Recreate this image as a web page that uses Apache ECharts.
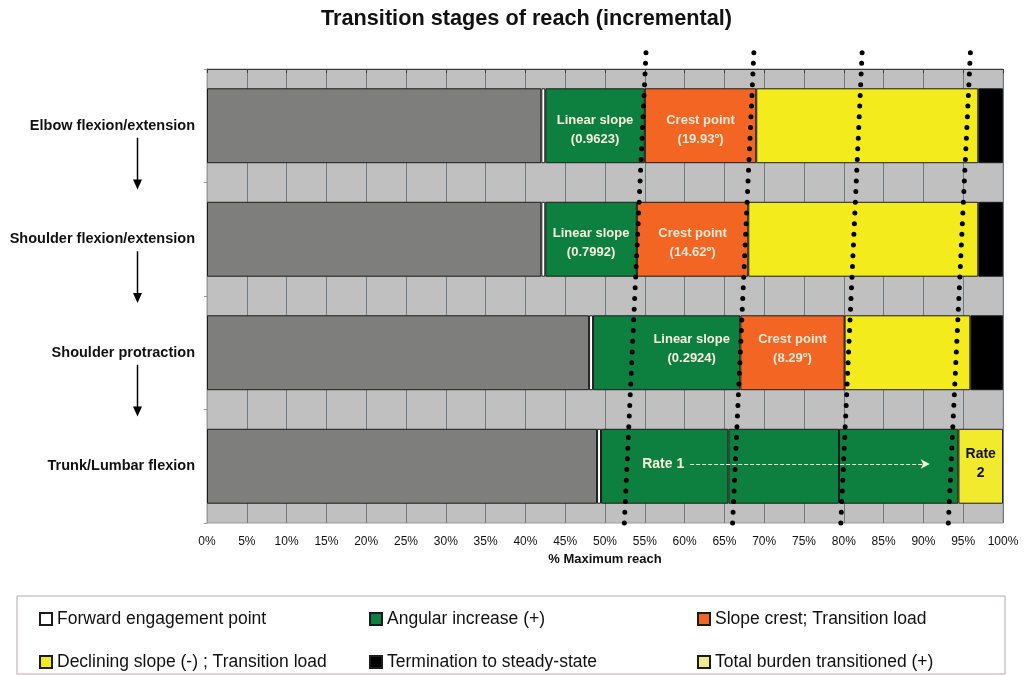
<!DOCTYPE html>
<html>
<head>
<meta charset="utf-8">
<script src="https://cdn.jsdelivr.net/npm/echarts@6/dist/echarts.min.js"></script>
<style>
html, body { margin: 0; padding: 0; background: #fff; }
#chart-panel { width: 1026px; height: 675px; }
</style>
</head>
<body>
<div id="chart-panel"></div>
<script>
// stages, top to bottom
var categories = ['Elbow flexion/extension', 'Shoulder flexion/extension', 'Shoulder protraction', 'Trunk/Lumbar flexion'];

// % of maximum reach per segment ('-' = no segment)
var baseGray    = [42.0, 42.0, 48.0, 49.0];
var engagement  = [0.5, 0.5, 0.5, 0.5];
var angular     = [12.5, 11.5, 18.5, 16.0];
var rate1Mid    = ['-', '-', '-', 13.9];
var rate1End    = ['-', '-', '-', 15.0];
var crest       = [14.0, 14.0, 13.1, '-'];
var declining   = [27.9, 28.9, 15.8, '-'];
var termination = [3.1, 3.1, 4.1, '-'];
var totalBurden = ['-', '-', '-', 5.6];

var angularLabels = ['Linear slope\n(0.9623)', 'Linear slope\n(0.7992)', 'Linear slope\n(0.2924)', ''];
var crestLabels = ['Crest point\n(19.93º)', 'Crest point\n(14.62º)', 'Crest point\n(8.29º)', ''];

// dotted transition lines: x at top and bottom (% reach)
var transitionTop    = [55.15, 68.7, 82.3, 95.9];
var transitionBottom = [52.4, 66.0, 79.6, 93.1];

// Rate 1 arrow span (% reach)
var rateArrow = [60.7, 90.8];

var xTicks = [0, 5, 10, 15, 20, 25, 30, 35, 40, 45, 50, 55, 60, 65, 70, 75, 80, 85, 90, 95, 100];

// legend, row by row
var legendNames = [
    'Forward engagement point', 'Angular increase (+)', 'Slope crest; Transition load',
    'Declining slope (-) ; Transition load', 'Termination to steady-state', 'Total burden transitioned (+)'
];

var font = "'Liberation Sans', Arial, sans-serif";
var lightText = '#f6f1dc';

// label nudges per row, as placed in the original
var angularOffset = [[0, 4], [0, 4], [25, -4], [0, 0]];
var crestOffset = [[0, 4], [0, 4], [0, -4], [0, 0]];

function barSeries(name, data, color, extra) {
    return Object.assign({
        name: name,
        type: 'bar',
        stack: 'reach',
        data: data,
        barWidth: '66%',
        itemStyle: { color: color, borderColor: '#1c1c1c', borderWidth: 1 },
        emphasis: { disabled: true }
    }, extra || {});
}

function withOffsets(values, offsets) {
    return values.map(function (v, i) {
        return { value: v, label: { offset: offsets[i] } };
    });
}

var series = [
    barSeries('base', baseGray, '#7e7f7d'),
    barSeries(legendNames[0], engagement, '#ffffff'),
    barSeries(legendNames[1], withOffsets(angular, angularOffset), '#0d7f3f', {
        label: {
            show: true,
            formatter: function (p) { return angularLabels[p.dataIndex]; },
            color: lightText, fontSize: 13, fontWeight: 'bold', lineHeight: 19, fontFamily: font
        }
    }),
    barSeries('rate1Mid', rate1Mid, '#0d7f3f'),
    barSeries('rate1End', rate1End, '#0d7f3f'),
    barSeries(legendNames[2], withOffsets(crest, crestOffset), '#f26522', {
        label: {
            show: true,
            formatter: function (p) { return crestLabels[p.dataIndex]; },
            color: '#fbe8d6', fontSize: 13, fontWeight: 'bold', lineHeight: 19, fontFamily: font
        }
    }),
    barSeries(legendNames[3], declining, '#f3eb1b'),
    barSeries(legendNames[4], termination, '#000000'),
    barSeries(legendNames[5], totalBurden, '#f2ea2c', {
        label: {
            show: true, formatter: 'Rate\n2', color: '#111', fontSize: 14, offset: [0, -3],
            fontWeight: 'bold', lineHeight: 19, fontFamily: font
        }
    })
];

transitionTop.forEach(function (t, i) {
    var s = {
        type: 'line',
        xAxisIndex: 0,
        yAxisIndex: 1,
        data: [[t, -0.144], [transitionBottom[i], 4.044]],
        symbol: 'none',
        clip: false,
        silent: true,
        z: 5,
        lineStyle: { color: '#000', width: 5, type: [0, 10.7], cap: 'round' }
    };
    if (i === 0) {
        s.markLine = {
            silent: true,
            symbol: ['none', 'arrow'],
            symbolSize: [7, 9],
            z: 6,
            lineStyle: { color: lightText, type: [4, 2], width: 1 },
            label: {
                show: true, position: 'start', formatter: 'Rate 1', distance: 6,
                color: lightText, fontSize: 14, fontWeight: 'bold', fontFamily: font
            },
            data: [[{ coord: [rateArrow[0], 3.48] }, { coord: [rateArrow[1], 3.48] }]]
        };
    }
    series.push(s);
});

// one legend per cell so the columns line up like the original box
var legendLeft = [34, 364, 692];
var legendTop = [605, 648];
var legends = legendNames.map(function (name, i) {
    var item = name;
    if (i === 5) {
        item = { name: name, itemStyle: { color: '#eeec8e' } };
    }
    return {
        left: legendLeft[i % 3],
        top: legendTop[Math.floor(i / 3)],
        itemWidth: 12,
        itemHeight: 12,
        selectedMode: false,
        icon: 'rect',
        textStyle: { fontSize: 17.5, color: '#111', fontFamily: font },
        data: [item]
    };
});

var chartOption = {
    backgroundColor: '#fff',
    animation: false,
    title: {
        text: 'Transition stages of reach (incremental)',
        left: 316,
        top: 3,
        textStyle: { fontSize: 21.7, fontWeight: 'bold', color: '#111', fontFamily: font }
    },
    legend: legends,
    grid: {
        show: true,
        left: 207,
        right: 23,
        top: 69,
        bottom: 152,
        backgroundColor: '#c0c0c0',
        borderColor: '#9a9a9a',
        borderWidth: 1
    },
    xAxis: {
        type: 'value',
        min: 0,
        max: 100,
        interval: 5,
        name: '% Maximum reach',
        nameLocation: 'middle',
        nameGap: 30,
        nameTextStyle: { fontSize: 13, fontWeight: 'bold', color: '#111', fontFamily: font },
        axisLine: { show: true, lineStyle: { color: '#3a3a3a' } },
        axisTick: { show: true, length: 4, lineStyle: { color: '#3a3a3a' } },
        axisLabel: {
            formatter: function (v) { return xTicks.indexOf(v) >= 0 ? v + '%' : ''; },
            margin: 13, fontSize: 12, color: '#111', fontFamily: font
        },
        splitLine: { show: true, lineStyle: { color: '#6f7a80', width: 1 } }
    },
    yAxis: [{
        type: 'category',
        inverse: true,
        data: categories,
        axisLine: { show: true, lineStyle: { color: '#9a9a9a' } },
        axisTick: { show: true, length: 3, lineStyle: { color: '#7f9bb0' } },
        axisLabel: { margin: 12, fontSize: 14.5, fontWeight: 'bold', color: '#111', fontFamily: font },
        splitLine: { show: false }
    }, {
        type: 'value',
        min: 0,
        max: 4,
        inverse: true,
        show: false
    }],
    graphic: [{
        type: 'rect',
        shape: { x: 17, y: 596, width: 988, height: 78 },
        style: { fill: 'none', stroke: '#b8a8a8', lineWidth: 1 },
        silent: true
    }],
    series: series
};

var chartPanel = document.getElementById('chart-panel');
var myChart = echarts.init(chartPanel);
myChart.setOption(chartOption);

// down arrows between the stage labels
var arrows = [];
for (var i = 0; i < categories.length - 1; i++) {
    var y = myChart.convertToPixel({ yAxisIndex: 0 }, categories[i]);
    var yNext = myChart.convertToPixel({ yAxisIndex: 0 }, categories[i + 1]);
    var y0 = y + 12;
    var y1 = (y + yNext) / 2 + 7;
    arrows.push({
        type: 'line',
        shape: { x1: 137.5, y1: y0, x2: 137.5, y2: y1 - 8 },
        style: { stroke: '#000', lineWidth: 1.5 },
        silent: true
    });
    arrows.push({
        type: 'polygon',
        shape: { points: [[133, y1 - 10], [142, y1 - 10], [137.5, y1]] },
        style: { fill: '#000' },
        silent: true
    });
}
myChart.setOption({ graphic: chartOption.graphic.concat(arrows) });
</script>
</body>
</html>
